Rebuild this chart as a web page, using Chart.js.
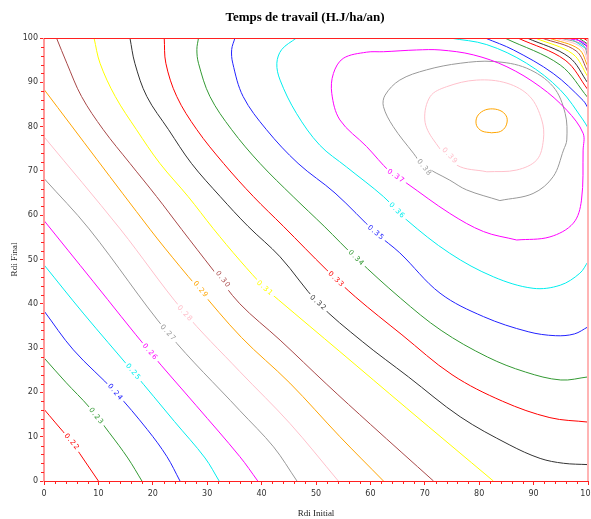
<!DOCTYPE html>
<html><head><meta charset="utf-8">
<script src="https://cdn.jsdelivr.net/npm/chart.js@4.4.1/dist/chart.umd.min.js"></script>
<style>html,body{margin:0;padding:0;background:#fff}canvas{display:block}</style>
</head><body>
<canvas id="c" width="591" height="519"></canvas>
<script>
// ---------- texts & ticks ----------
const chartTitle = "Temps de travail (H.J/ha/an)";
const xAxisTitle = "Rdi Initial";
const yAxisTitle = "Rdi Final";
const xTickValues = [0,10,20,30,40,50,60,70,80,90,100];
const yTickValues = [0,10,20,30,40,50,60,70,80,90,100];

// ---------- contour lines (x = Rdi Initial, y = Rdi Final) ----------
const c022 = [[0,16.2],[2,13.3],[5,8.9],[8,3.6],[10,0]];
const c023 = [[0,27.8],[4,22.3],[8.3,16.7],[12,10.9],[15.4,5.2],[18,0]];
const c024 = [[0,38.4],[5.4,29.6],[13.1,20.1],[19,11.6],[22.6,5.5],[25,0]];
const c025 = [[0,48.8],[7.2,37.9],[16.4,24.6],[24,13.4],[29.6,5.2],[32.2,0]];
const c026 = [[0,58.8],[9,45.1],[19.5,29.1],[28,17.0],[36,5.5],[39.3,0]];
const c027 = [[0,68.3],[8.3,56.9],[22.8,33.4],[36,15.9],[42.2,7.7],[46.5,0]];
const c028 = [[0,77.7],[14,56.9],[25.5,38.5],[36,24.7],[45.2,13.0],[54.1,0]];
const c029 = [[0,88.4],[19.5,56.8],[25,48.4],[28.1,43.9],[36.3,32.4],[45.2,22.1],[54.4,10.0],[62.4,0]];
const c030 = [[2.3,100],[4.2,94.3],[6.9,86.8],[10.9,79.3],[15.8,71.7],[20.7,64.2],[25.3,56.8],[31.1,47.6],[36,40.0],[43.4,31.8],[52,21.8],[60,12.8],[71.6,0]];
const c031 = [[9.2,100],[10.3,94.3],[13.1,86.8],[17,79.3],[21.3,71.7],[26.5,64.2],[31.1,57],[36,49.8],[40.6,43.6],[43.1,40.9],[54.4,29.2],[66.7,16.4],[82.6,0]];
const c032 = [[15.8,100],[16.7,94.3],[18.9,86.8],[22.9,79.3],[27.1,71.7],[32.4,64.2],[37.5,57.5],[43.4,50.6],[50.4,40.2],[58.5,31.5],[67,23.5],[76.5,14.5],[85.5,8.2],[91.2,5.1],[95.5,4.0],[100,3.7]];
const c033 = [[22.1,100],[22.4,94.3],[24.4,86.8],[28.1,79.3],[33,71.7],[38.5,64.2],[44,57.5],[52,47.6],[57.3,41.5],[65.8,33],[75,24],[84.3,18],[93,14.3],[100,13.3]];
const c034 = [[28.4,100],[28.1,97.4],[28.4,94.3],[30.5,86.8],[34.5,79.3],[39.7,71.7],[45.8,64.2],[51.5,57.5],[57.4,50.3],[65.5,41.3],[73,34],[81.5,28],[88.5,24.6],[95,22.8],[100,23.5]];
const c035 = [[35.1,100],[34.5,97.4],[34.7,94.3],[36.6,86.8],[40.9,79.3],[46.7,71.7],[53.5,65],[61.2,55.8],[65.4,51.5],[72.8,42.4],[80.8,37.1],[89,33.7],[94,32.8],[97.5,33.2],[100,34.8]];
const c036 = [[46.4,100],[43.7,97.4],[42.8,94.3],[43.4,90.5],[46.4,83],[50.7,75.8],[55.6,70.9],[62.4,64.2],[66.7,58.9],[74.6,51.4],[82.6,46.1],[89.9,43.5],[94.9,44.2],[98.5,46.9],[100,49.5]];
const c037 = [[86.9,54.4],[80.8,56.3],[74.6,60.4],[66.7,67.2],[63.6,69.8],[59.3,75.5],[54.4,81.5],[52.9,87.5],[53.2,92.0],[55.0,95.4],[59.3,96.8],[62.4,96.9],[68.5,97.3],[72.8,97.3],[78.9,96.2],[85.1,93.5],[91.2,89.0],[96.1,83.7],[99.1,78.5],[99.1,74.7],[98.8,63.4],[97.3,58.2],[93.0,55.1],[86.9,54.4]];
const c038 = [[83.8,63.3],[77.7,65.7],[74.6,67.9],[69.7,71.3],[67.9,74.0],[64.2,80.0],[62.4,84.5],[62.7,87.1],[65.4,90.5],[70.3,92.8],[76.5,94.3],[82.6,94.7],[88.7,93.2],[93.6,89.0],[95.8,83.0],[96.1,77.0],[95.5,74.7],[93.6,68.7],[89.9,64.9],[83.8,63.3]];
const c039 = [[81.4,69.8],[75.9,71.3],[71.6,77.0],[70.0,81.5],[71.0,86.8],[74.0,89.0],[79.5,90.5],[85.1,89.8],[89.3,86.8],[91.5,81.5],[91.8,77.0],[90.6,72.5],[86.9,70.2],[81.4,69.8]];
const c040 = [[82.3,78.6],[80.5,79.0],[79.5,80.3],[79.6,82.2],[80.8,83.6],[82.5,84.0],[84.2,83.4],[85.1,82.0],[84.9,80.1],[83.9,78.9],[82.3,78.6]];
// top-right corner (levels descending again past the maximum)
const k036 = [[74.6,100],[81.4,98.5],[88.7,94.3],[94.9,88.3],[99.1,81.5],[100,79.7]];
const k035 = [[81.1,100],[86.3,97.3],[93.6,92.0],[99.1,85.9],[100,84.2]];
const k034 = [[84.7,100],[94.9,93.9],[100,86.5]];
const k033 = [[87.1,100],[95.8,95.0],[100,88.3]];
const k032 = [[88.8,100],[96.5,95.7],[100,89.8]];
const k031 = [[90.3,100],[97.2,96.4],[100,91.2]];
const k030 = [[91.5,100],[97.8,97.1],[100,92.3]];
const k029 = [[92.8,100],[98.3,97.5],[100,93.5]];
const k028 = [[93.9,100],[98.7,98.0],[100,94.6]];
const k027 = [[94.9,100],[99.1,98.4],[100,95.5]];
const k026 = [[95.8,100],[99.4,98.9],[100,96.4]];
const k025 = [[96.7,100],[100,97.3]];
const k024 = [[97.6,100],[100,98.0]];
const k023 = [[98.3,100],[100,98.6]];
const k022 = [[99.1,100],[100,99.3]];

// inline level labels: [text, x, y]
const levelLabels = [
 ["0.22",5.1,8.8],["0.23",9.6,14.6],["0.24",13.1,20.0],["0.25",16.4,24.6],["0.26",19.5,29.1],
 ["0.27",22.8,33.4],["0.28",25.9,37.8],["0.29",28.8,43.2],["0.30",32.9,45.5],["0.31",40.6,43.5],
 ["0.32",50.4,40.2],["0.33",53.7,45.5],["0.34",57.4,50.3],["0.35",61.0,56.0],["0.36",64.9,61.0],
 ["0.37",64.7,68.8],["0.38",69.9,70.7],["0.39",74.6,73.4]
];

// ---------- level colours ----------
const levelColors = {
 "0.22":"#ff0000","0.23":"#339933","0.24":"#2222ff","0.25":"#00eeee","0.26":"#ff00ff",
 "0.27":"#999999","0.28":"#ffc0cb","0.29":"#ffa500","0.30":"#a84848","0.31":"#ffff00",
 "0.32":"#333333","0.33":"#ff0000","0.34":"#339933","0.35":"#2222ff","0.36":"#00eeee",
 "0.37":"#ff00ff","0.38":"#999999","0.39":"#ffc0cb","0.40":"#ffa500"
};

const contourTable = [
 ["0.22",c022],["0.23",c023],["0.24",c024],["0.25",c025],["0.26",c026],["0.27",c027],
 ["0.28",c028],["0.29",c029],["0.30",c030],["0.31",c031],["0.32",c032],["0.33",c033],
 ["0.34",c034],["0.35",c035],["0.36",c036],["0.37",c037],["0.38",c038],["0.39",c039],["0.40",c040],
 ["0.36",k036],["0.35",k035],["0.34",k034],["0.33",k033],["0.32",k032],["0.31",k031],["0.30",k030],
 ["0.29",k029],["0.28",k028],["0.27",k027],["0.26",k026],["0.25",k025],["0.24",k024],["0.23",k023],["0.22",k022]
];

const datasets = contourTable.map(([lv, pts]) => ({
  label: lv,
  data: pts.map(p => ({x:p[0], y:p[1]})),
  showLine: true, fill: false,
  borderColor: levelColors[lv], borderWidth: 1,
  pointRadius: 0, pointHoverRadius: 0,
  tension: 0.35
}));

const AXIS_RED = "#ff2020";

const decoPlugin = {
  id: 'deco',
  afterDatasetsDraw(chart) {
    const {ctx, chartArea: a, scales: {x, y}} = chart;
    ctx.save();
    // contour labels
    ctx.font = "7px 'DejaVu Sans'";
    try { ctx.letterSpacing = "1px"; } catch(e) {}
    levelLabels.forEach(([txt, lx, ly]) => {
      const px = x.getPixelForValue(lx), py = y.getPixelForValue(ly);
      let best = null, bd = 1e9;
      contourTable.forEach(([lv, pts]) => {
        if (lv !== txt) return;
        for (let i = 0; i < pts.length - 1; i++) {
          const x1 = x.getPixelForValue(pts[i][0]), y1 = y.getPixelForValue(pts[i][1]);
          const x2 = x.getPixelForValue(pts[i+1][0]), y2 = y.getPixelForValue(pts[i+1][1]);
          const mx = (x1+x2)/2, my = (y1+y2)/2;
          const d = Math.hypot(mx-px, my-py);
          if (d < bd) { bd = d; best = [x2-x1, y2-y1]; }
        }
      });
      let ang = best ? Math.atan2(best[1], best[0]) : 0;
      if (Math.cos(ang) < 0) ang += Math.PI;
      const w = ctx.measureText(txt).width + 4;
      ctx.save();
      ctx.translate(px, py);
      ctx.rotate(ang);
      ctx.fillStyle = "#fff";
      ctx.fillRect(-w/2, -4, w, 8);
      ctx.fillStyle = levelColors[txt];
      ctx.textAlign = "center"; ctx.textBaseline = "middle";
      ctx.fillText(txt, 0, 0);
      ctx.restore();
    });
    try { ctx.letterSpacing = "0px"; } catch(e) {}
    // frame
    ctx.fillStyle = "#ff9a9a";
    ctx.fillRect(a.left - 1, a.top, 2, a.bottom - a.top + 1);
    ctx.fillStyle = "#ffb4b4";
    ctx.fillRect(a.right - 1, a.top, 2, a.bottom - a.top + 1);
    ctx.strokeStyle = AXIS_RED; ctx.lineWidth = 1;
    ctx.beginPath();
    ctx.moveTo(a.left, a.top + 0.5); ctx.lineTo(a.right, a.top + 0.5);
    ctx.moveTo(a.left, a.bottom + 0.5); ctx.lineTo(a.right + 1, a.bottom + 0.5);
    ctx.stroke();
    // minor ticks
    ctx.beginPath();
    for (let v = 0; v <= 100; v += 2) {
      if (v % 10 === 0) continue;
      const tx = Math.round(x.getPixelForValue(v)) + 0.5;
      ctx.moveTo(tx, a.bottom); ctx.lineTo(tx, a.bottom + 3);
      const ty = Math.round(y.getPixelForValue(v)) + 0.5;
      ctx.moveTo(a.left - 3, ty); ctx.lineTo(a.left, ty);
    }
    ctx.stroke();
    // titles
    ctx.fillStyle = "#000";
    ctx.textAlign = "center"; ctx.textBaseline = "middle";
    ctx.font = "bold 13px 'Liberation Serif'";
    ctx.fillText(chartTitle, 305, 18);
    ctx.fillStyle = "#222";
    ctx.font = "9px 'Liberation Serif'";
    ctx.fillText(xAxisTitle, (a.left + a.right) / 2, 514);
    ctx.save();
    ctx.translate(15, (a.top + a.bottom) / 2);
    ctx.rotate(-Math.PI / 2);
    ctx.fillText(yAxisTitle, 0, 0);
    ctx.restore();
    ctx.restore();
  }
};

new Chart(document.getElementById('c'), {
  type: 'scatter',
  data: { datasets },
  options: {
    responsive: false, animation: false, devicePixelRatio: 1,
    layout: { padding: { top: 38, right: 3, left: 0, bottom: 0 }, autoPadding: false },
    plugins: { legend: { display: false }, tooltip: { enabled: false }, title: { display: false } },
    scales: {
      x: {
        type: 'linear', min: 0, max: 100,
        afterFit: s => { s.height = 38; s.paddingLeft = 0; s.paddingRight = 0; },
        afterBuildTicks: s => { s.ticks = xTickValues.map(v => ({value: v})); },
        ticks: { maxRotation: 0, autoSkip: false, padding: 4, color: "#333",
                 font: { family: "'DejaVu Sans'", size: 8 } },
        grid: { drawOnChartArea: false, drawTicks: true, tickLength: 4, tickColor: AXIS_RED },
        border: { display: false }
      },
      y: {
        type: 'linear', min: 0, max: 100,
        afterFit: s => { s.width = 44; s.paddingTop = 0; s.paddingBottom = 0; },
        afterBuildTicks: s => { s.ticks = yTickValues.map(v => ({value: v})); },
        ticks: { autoSkip: false, padding: 2, color: "#333",
                 font: { family: "'DejaVu Sans'", size: 8 } },
        grid: { drawOnChartArea: false, drawTicks: true, tickLength: 4, tickColor: AXIS_RED },
        border: { display: false }
      }
    }
  },
  plugins: [decoPlugin]
});
</script>
</body></html>
